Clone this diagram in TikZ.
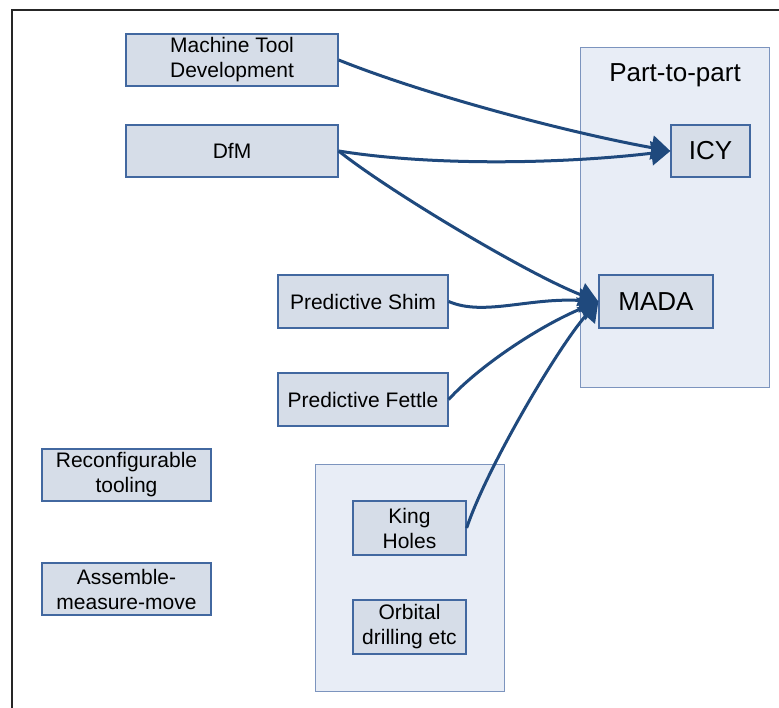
\documentclass[tikz,border=0pt]{standalone}
\usepackage{fontspec}
\setmainfont{Liberation Sans}
\usetikzlibrary{arrows.meta}
\definecolor{boxfill}{RGB}{214,221,232}
\definecolor{boxline}{RGB}{66,104,160}
\definecolor{contfill}{RGB}{232,237,246}
\definecolor{contline}{RGB}{124,148,190}
\definecolor{arrowcol}{RGB}{31,73,125}
\tikzset{
  smallbox/.style={draw=boxline, fill=boxfill, line width=1.3pt, inner sep=0pt,
    align=center, font=\fontsize{21}{25}\selectfont},
  bigbox/.style={draw=boxline, fill=boxfill, line width=1.3pt, inner sep=0pt,
    align=center, font=\fontsize{26}{30}\selectfont},
  container/.style={draw=contline, fill=contfill, line width=1pt, inner sep=0pt},
  link/.style={draw=arrowcol, line width=3pt,
    -{Triangle[length=19pt,width=24pt]}},
}
\begin{document}
\begin{tikzpicture}[x=1pt,y=-1pt]
\useasboundingbox (0,0) rectangle (779,708);
\draw[line width=1.5pt, black!85] (12,708) -- (12,10) -- (779,10);

% containers
\node[container, minimum width=189pt, minimum height=340pt] (p2p) at (674.5,218) {};
\node[font=\fontsize{26}{30}\selectfont] (p2ptitle) at (675,75) {Part-to-part};
\node[container, minimum width=189pt, minimum height=227pt] (kh) at (409.5,577.5) {};

% boxes
\node[smallbox, minimum width=212pt, minimum height=52pt] (mtd) at (232,60) {Machine Tool\\Development};
\node[smallbox, minimum width=212pt, minimum height=52pt] (dfm) at (232,151) {DfM};
\node[bigbox, minimum width=79pt, minimum height=52pt] (icy) at (710.5,151) {ICY};
\node[bigbox, minimum width=114pt, minimum height=53pt] (mada) at (656,301.5) {MADA};
\node[smallbox, minimum width=170pt, minimum height=53pt] (shim) at (363,301.5) {Predictive Shim};
\node[smallbox, minimum width=170pt, minimum height=53pt] (fettle) at (363,399.5) {Predictive Fettle};
\node[smallbox, minimum width=169pt, minimum height=52pt] (reconf) at (126.5,475) {Reconfigurable\\tooling};
\node[smallbox, minimum width=169pt, minimum height=52pt] (amm) at (126.5,589) {Assemble-\\measure-move};
\node[smallbox, minimum width=113pt, minimum height=54pt] (king) at (409.5,528) {King\\Holes};
\node[smallbox, minimum width=113pt, minimum height=54pt] (orb) at (409.5,627) {Orbital\\drilling etc};

% connectors
\draw[link] (mtd.east) .. controls +(90,36) and +(-100,-18) .. (icy.west);
\draw[link] (dfm.east) .. controls +(100,16) and +(-100,12) .. (icy.west);
\draw[link] (dfm.east) .. controls +(50,40) and +(-70,-27) .. (mada.west);
\draw[link] (shim.east) .. controls +(35,15) and +(-70,-4) .. (mada.west);
\draw[link] (fettle.east) .. controls +(30,-33) and +(-60,25) .. (mada.west);
\draw[link] (king.east) .. controls +(20,-60) and +(-40,45) .. (mada.west);
\end{tikzpicture}
\end{document}
